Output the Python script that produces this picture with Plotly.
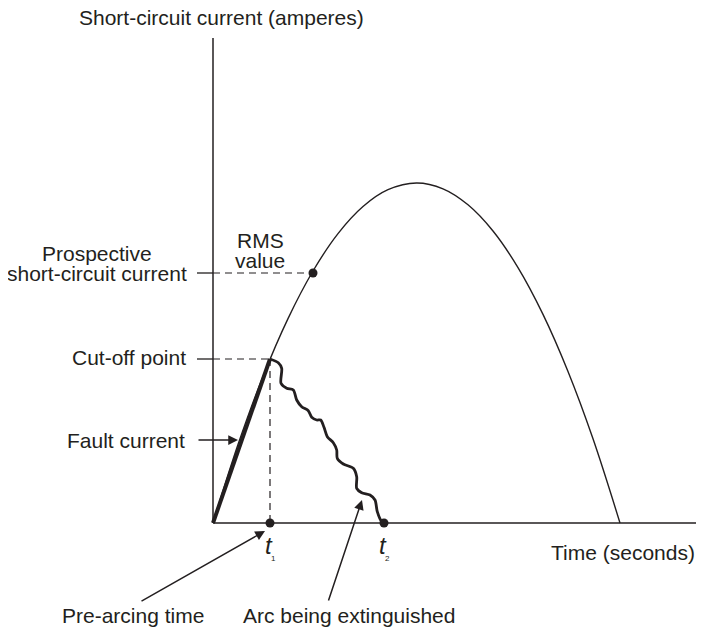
import plotly.graph_objects as go

# ---- data (time units on x, current units on y) ----
curve_t = [0, 25, 50, 75, 100, 125, 150, 175, 203.5, 230, 255, 280, 305, 330, 355, 380, 407]
curve_i = [0, 78.4, 146.5, 204.4, 252.0, 289.4, 316.5, 333.3, 340, 334.2, 318.2, 292.0, 255.4, 208.6, 151.5, 84.2, 0]

fault_t = [0, 57]
fault_i = [0, 164]

arc_t = [57, 65.3, 68.7, 68, 73.7, 80.3, 83.7, 88.7, 95.3, 98.7, 103.7, 107.7, 111, 114.3,
         120.3, 123.7, 124.3, 130.3, 140.3, 143.7, 143.7, 148.7, 157, 162, 164.3, 168.7, 171]
arc_i = [164, 160.3, 154.7, 139.7, 134.7, 133, 123, 116.3, 112.3, 105.7, 103, 103, 95.7, 86.3,
         80.3, 73, 64.7, 59, 54.7, 46.3, 34.7, 30.3, 28, 23, 11.3, 1.3, 0]

t_axis_end = 484
i_axis_end = 485
t1 = 57
t2 = 171
cutoff_i = 164
rms_t = 100
rms_i = 250

INK = "#231f20"
FONT = "Liberation Sans, Arial, Helvetica, sans-serif"
FS = 21

fig = go.Figure()

# axes
fig.add_trace(go.Scatter(x=[0, t_axis_end], y=[0, 0], mode="lines",
                         line=dict(color=INK, width=1.5), hoverinfo="skip"))
fig.add_trace(go.Scatter(x=[0, 0], y=[0, i_axis_end], mode="lines",
                         line=dict(color=INK, width=1.5), hoverinfo="skip"))
# ticks on y axis
for yv in [rms_i, cutoff_i]:
    fig.add_trace(go.Scatter(x=[-16, 0], y=[yv, yv], mode="lines",
                             line=dict(color=INK, width=1.3), hoverinfo="skip"))

# dashed guide lines
fig.add_trace(go.Scatter(x=[0, rms_t], y=[rms_i, rms_i], mode="lines",
                         line=dict(color=INK, width=1.2, dash="7px,5px"), hoverinfo="skip"))
fig.add_trace(go.Scatter(x=[0, t1], y=[cutoff_i, cutoff_i], mode="lines",
                         line=dict(color=INK, width=1.2, dash="7px,5px"), hoverinfo="skip"))
fig.add_trace(go.Scatter(x=[t1, t1], y=[cutoff_i, 0], mode="lines",
                         line=dict(color=INK, width=1.2, dash="7px,5px"), hoverinfo="skip"))

# prospective current curve
fig.add_trace(go.Scatter(x=curve_t, y=curve_i, mode="lines",
                         line=dict(color=INK, width=1.4, shape="spline", smoothing=1.0),
                         hoverinfo="skip"))
# fault current (bold)
fig.add_trace(go.Scatter(x=fault_t, y=fault_i, mode="lines",
                         line=dict(color=INK, width=4), hoverinfo="skip"))
# arc being extinguished (wavy)
fig.add_trace(go.Scatter(x=arc_t, y=arc_i, mode="lines",
                         line=dict(color=INK, width=2.8, shape="spline", smoothing=0.8),
                         hoverinfo="skip"))
# dots
fig.add_trace(go.Scatter(x=[rms_t, t1, t2], y=[rms_i, 0, 0], mode="markers",
                         marker=dict(color=INK, size=9), hoverinfo="skip"))

def txt(x, y, s, xanchor="center", size=FS, italic=False):
    fig.add_annotation(x=x, y=y, text=(f"<i>{s}</i>" if italic else s), showarrow=False,
                       xanchor=xanchor, yanchor="middle",
                       font=dict(family=FONT, size=size, color=INK))

txt(-136, 506, "Short-circuit current (amperes)", xanchor="left")
txt(484, -29, "Time (seconds)", xanchor="right")
txt(-116, 270, "Prospective")
txt(-116, 250, "short-circuit current")
txt(47, 283, "RMS")
txt(47, 263, "value")
txt(-25, 166, "Cut-off point", xanchor="right")
txt(-26, 83, "Fault current", xanchor="right")
txt(-80, -92, "Pre-arcing time")
txt(136, -92, "Arc being extinguished")
txt(t1 - 1, -22, "t", size=24, italic=True)
txt(t1 + 3, -35, "1", size=8)
txt(t2 - 1, -22, "t", size=24, italic=True)
txt(t2 + 3, -35, "2", size=8)

def arrow(x, y, ax, ay):
    fig.add_annotation(x=x, y=y, ax=ax, ay=ay, xref="x", yref="y", axref="x", ayref="y",
                       text="", showarrow=True, arrowhead=2, arrowsize=1.3,
                       arrowwidth=1.5, arrowcolor=INK)

arrow(25, 83, -16, 83)
arrow(52, -8, -73, -79)
arrow(149, 23, 115, -79)

# ranges shifted by the page's 8px body margin so marks land where the reference has them
fig.update_layout(
    width=704, height=632, autosize=False,
    margin=dict(l=0, r=0, t=0, b=0),
    paper_bgcolor="white", plot_bgcolor="white",
    showlegend=False,
    xaxis=dict(range=[-205, 499], visible=False, fixedrange=True),
    yaxis=dict(range=[-117, 515], visible=False, fixedrange=True),
)

fig.write_html("out.html")
